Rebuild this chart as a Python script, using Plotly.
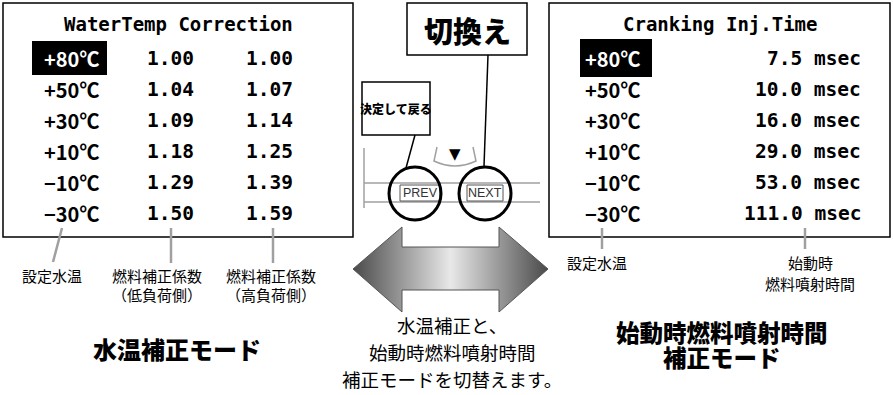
import plotly.graph_objects as go

W, H = 893, 395

# ---- data ----
temps = ["+80℃", "+50℃", "+30℃", "+10℃", "−10℃", "−30℃"]
coef_low = ["1.00", "1.04", "1.09", "1.18", "1.29", "1.50"]
coef_high = ["1.00", "1.07", "1.14", "1.25", "1.39", "1.59"]
crank_ms = ["7.5", "10.0", "16.0", "29.0", "53.0", "111.0"]
left_title = "WaterTemp Correction"
right_title = "Cranking Inj.Time"
left_labels = [["設定水温"], ["燃料補正係数", "（低負荷側）"], ["燃料補正係数", "（高負荷側）"]]
right_labels = [["設定水温"], ["始動時", "燃料噴射時間"]]
left_mode = ["水温補正モード"]
right_mode = ["始動時燃料噴射時間", "補正モード"]
middle_note = ["水温補正と、", "始動時燃料噴射時間", "補正モードを切替えます。"]
btn_switch = "切換え"
btn_back = "決定して戻る"

# ---- layout geometry (pixels) ----
row_y = [58, 89, 120, 151, 182, 213]
MONO = "DejaVu Sans Mono"
JP = "Noto Sans CJK JP"
GRAY = "#a0a0a0"

fig = go.Figure()

# double arrow with horizontal gradient
arrow_x = [353, 402, 402, 499, 499, 548, 499, 499, 402, 402, 353]
arrow_y = [269, 227, 247, 247, 227, 269, 312, 290, 290, 312, 269]
fig.add_trace(go.Scatter(
    x=arrow_x, y=arrow_y, mode="lines", fill="toself",
    fillgradient=dict(type="horizontal",
                      colorscale=[[0, "#4a4a4a"], [0.5, "#e8e8e8"], [1, "#4a4a4a"]]),
    line=dict(color="#555555", width=1), hoverinfo="skip", showlegend=False))

shapes = []
def rect(x0, y0, x1, y1, line="black", lw=1.5, fill=None, layer="above"):
    shapes.append(dict(type="rect", x0=x0, y0=y0, x1=x1, y1=y1,
                       line=dict(color=line, width=lw),
                       fillcolor=fill if fill else "rgba(0,0,0,0)", layer=layer))
def line(x0, y0, x1, y1, color="black", lw=1.5):
    shapes.append(dict(type="line", x0=x0, y0=y0, x1=x1, y1=y1,
                       line=dict(color=color, width=lw)))

# panels
rect(3, 3, 353, 237)
rect(549, 3, 890, 237)
rect(32, 41, 107, 75, line="black", lw=0, fill="black", layer="below")
rect(580, 39, 652, 77, line="black", lw=0, fill="black", layer="below")

# leader lines
line(62, 228, 53, 262, GRAY, 2.5)
line(171, 228, 171, 263, GRAY, 2.5)
line(273, 228, 273, 263, GRAY, 2.5)
line(602, 228, 602, 249, GRAY, 2.5)
line(805, 228, 805, 249, GRAY, 2.5)

# device panel
line(364, 148, 364, 208, GRAY, 1.5)
line(364, 183, 540, 183, GRAY, 1.5)
line(364, 202, 540, 202, GRAY, 1.5)
shapes.append(dict(type="path", path="M 437 147 L 434 161 Q 455 171 476 161 L 473 147",
                   line=dict(color=GRAY, width=1.5)))
rect(400, 185, 440, 201, line="#555555", lw=1, fill="white")
rect(467, 185, 503, 201, line="#555555", lw=1, fill="white")
shapes.append(dict(type="circle", x0=389, y0=167, x1=441, y1=220,
                   line=dict(color="black", width=3)))
shapes.append(dict(type="circle", x0=459, y0=167, x1=511, y1=220,
                   line=dict(color="black", width=3)))

# callout boxes
rect(407, 3, 527, 55, fill="white")
rect(362, 82, 430, 135, fill="white")
line(415, 135, 406, 168)
line(488, 55, 484, 166)

anns = []
def text(x, y, t, size, family=JP, color="black", weight="normal", xanchor="center"):
    anns.append(dict(x=x, y=y, text=t, showarrow=False, xanchor=xanchor, yanchor="middle",
                     font=dict(size=size, family=family, color=color, weight=weight)))
def lines(x, y0, dy, items, size, weight="normal"):
    for k, t in enumerate(items):
        text(x, y0 + k * dy, t, size, weight=weight)

# left table
text(178, 24, left_title, 19, MONO, weight="bold")
for i, (t, a, b) in enumerate(zip(temps, coef_low, coef_high)):
    text(42, row_y[i], t, 20, JP, "white" if i == 0 else "black", "bold", "left")
    text(170, row_y[i], a, 19.5, MONO, weight="bold")
    text(269, row_y[i], b, 19.5, MONO, weight="bold")

# right table
text(720, 24, right_title, 19, MONO, weight="bold")
for i, (t, v) in enumerate(zip(temps, crank_ms)):
    text(583, row_y[i], t, 20, JP, "white" if i == 0 else "black", "bold", "left")
    text(863, row_y[i], f"{v} msec", 19.5, MONO, weight="bold", xanchor="right")

# labels under panels
lines(52, 275, 19, left_labels[0], 15)
lines(157, 275, 19, left_labels[1], 15)
lines(271, 275, 19, left_labels[2], 15)
lines(597, 262, 21, right_labels[0], 15)
lines(810, 262, 21, right_labels[1], 15)

lines(177, 348, 25, left_mode, 24, weight=900)
lines(722, 332, 25, right_mode, 23.5, weight=900)
lines(452, 325, 27, middle_note, 18.5)

# buttons
text(467, 30, btn_switch, 29, weight=900)
text(396, 108, btn_back, 12, weight=900)
text(455, 154, "▼", 15, "DejaVu Sans")
text(420, 193, "PREV", 12.5, "Liberation Sans", "#333333")
text(485, 193, "NEXT", 12.5, "Liberation Sans", "#333333")

fig.update_layout(
    width=W, height=H, margin=dict(l=0, r=0, t=0, b=0),
    paper_bgcolor="white", plot_bgcolor="white",
    xaxis=dict(range=[0, W], visible=False, fixedrange=True),
    yaxis=dict(range=[H, 0], visible=False, fixedrange=True),
    shapes=shapes, annotations=anns, showlegend=False)

fig.write_html("out.html", config={"displayModeBar": False},
               post_script="document.body.style.margin='0';document.body.style.overflow='hidden';")
